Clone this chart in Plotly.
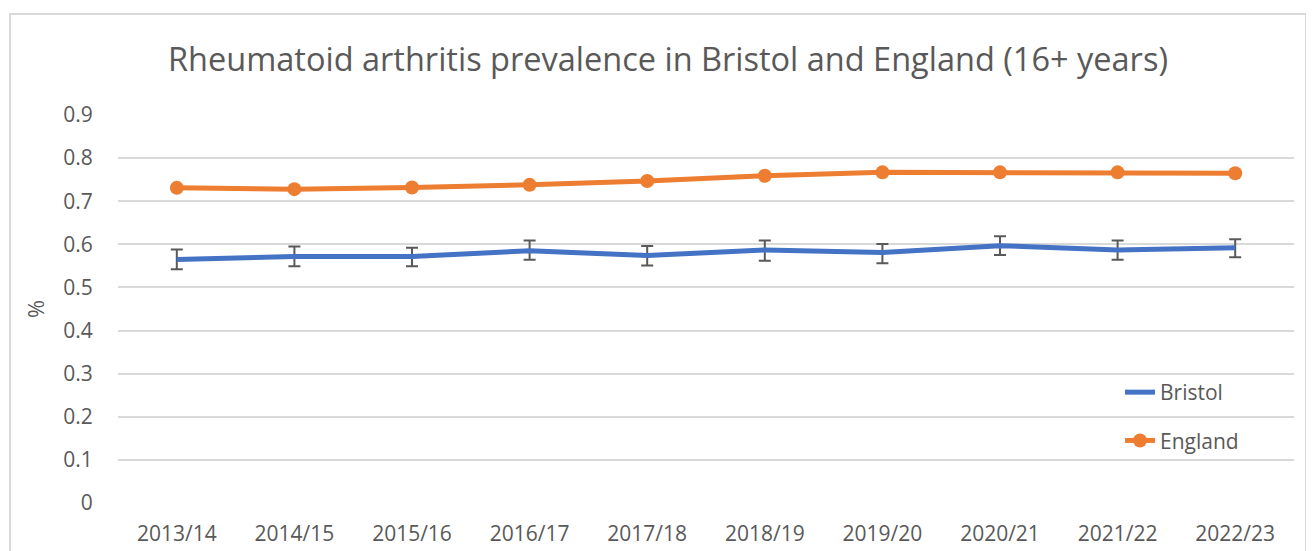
import plotly.graph_objects as go

years = ["2013/14", "2014/15", "2015/16", "2016/17", "2017/18",
         "2018/19", "2019/20", "2020/21", "2021/22", "2022/23"]
bristol = [0.565, 0.572, 0.572, 0.585, 0.574, 0.587, 0.581, 0.597, 0.587, 0.592]
bristol_upper = [0.588, 0.595, 0.592, 0.609, 0.596, 0.609, 0.601, 0.619, 0.609, 0.612]
bristol_lower = [0.542, 0.549, 0.549, 0.564, 0.551, 0.562, 0.556, 0.575, 0.564, 0.570]
england = [0.731, 0.728, 0.732, 0.738, 0.747, 0.759, 0.767, 0.767, 0.767, 0.765]

err_plus = [u - v for u, v in zip(bristol_upper, bristol)]
err_minus = [v - l for v, l in zip(bristol, bristol_lower)]

# page body has an 8px margin; figure is laid out in its own coordinates
OFF = 8
W, H = 1314 - OFF, 551 - OFF
ML, MR, MT, MB = 118 - OFF, 20, 115 - OFF, 48
pw = W - ML - MR
ph = H - MT - MB

fig = go.Figure()
fig.add_trace(go.Scatter(
    x=years, y=bristol, name="Bristol", mode="lines",
    line=dict(color="#4472c4", width=5),
    error_y=dict(type="data", symmetric=False, array=err_plus, arrayminus=err_minus,
                 color="#595959", thickness=2, width=6),
    legendgroup="a",
))
fig.add_trace(go.Scatter(
    x=years, y=england, name="England", mode="lines+markers",
    line=dict(color="#ed7d31", width=5),
    marker=dict(color="#ed7d31", size=14),
    legendgroup="b",
))

font_family = "Open Sans, Liberation Sans, sans-serif"

# outer chart border (reference coords: left 10, top 14, right 1306)
fig.add_shape(type="rect", xref="paper", yref="paper",
              x0=(10 - OFF - ML) / pw, x1=(1306 - OFF - ML) / pw,
              y0=-(MB + 30) / ph, y1=1 + (MT - (14 - OFF)) / ph,
              line=dict(color="#d9d9d9", width=2), fillcolor="rgba(0,0,0,0)", layer="below")

fig.update_layout(
    width=W, height=H,
    margin=dict(l=ML, r=MR, t=MT, b=MB, autoexpand=False),
    paper_bgcolor="white", plot_bgcolor="white",
    title=dict(text="Rheumatoid arthritis prevalence in Bristol and England (16+ years)",
               x=(668 - OFF) / W, xanchor="center", y=1 - (60 - OFF) / H, yanchor="middle",
               font=dict(family=font_family, size=32.5, color="#595959")),
    font=dict(family=font_family, color="#595959", size=21),
    showlegend=True,
    legend=dict(x=(1120 - OFF - ML) / pw, y=1 - (372 - OFF - MT) / ph,
                xanchor="left", yanchor="top",
                font=dict(size=21, color="#595959"),
                bgcolor="rgba(0,0,0,0)", tracegroupgap=18),
)

fig.update_xaxes(type="category", range=[-0.5, 9.5], showgrid=False, showline=False,
                 zeroline=False, ticks="outside", ticklen=12, tickcolor="rgba(0,0,0,0)",
                 tickfont=dict(size=21, color="#595959"), automargin=False)
fig.update_yaxes(range=[0, 0.9], dtick=0.1, tick0=0, showgrid=True, gridcolor="#d9d9d9",
                 gridwidth=1.5, zeroline=False, showline=False,
                 ticks="outside", ticklen=20, tickcolor="rgba(0,0,0,0)",
                 tickfont=dict(size=21, color="#595959"), automargin=False,
                 title=dict(text="%", font=dict(size=22, color="#595959"), standoff=12))

fig.write_html("out.html")
